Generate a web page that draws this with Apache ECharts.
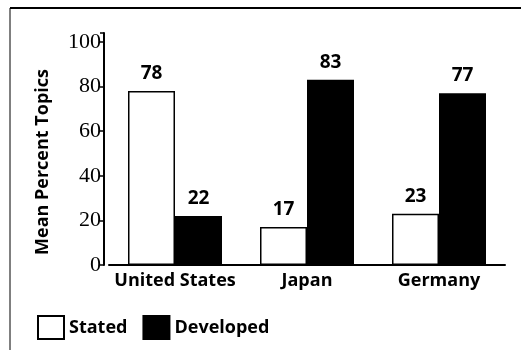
<!DOCTYPE html>
<html>
<head>
<meta charset="utf-8">
<script src="https://cdn.jsdelivr.net/npm/echarts@6/dist/echarts.min.js"></script>
<style>
  html, body { margin: 0; padding: 0; background: #fff; }
  #chart { width: 521px; height: 355px; }
</style>
</head>
<body>
<div id="chart"></div>
<script>
// Countries compared
const countries = ['United States', 'Japan', 'Germany'];
// Mean percent of topics that were stated vs developed
const stated = [78, 17, 23];
const developed = [22, 83, 77];
// Y-axis tick values
const yTicks = [0, 20, 40, 60, 80, 100];

const chart = echarts.init(document.getElementById('chart'), null, { renderer: 'canvas' });

const sansBold = { fontFamily: 'Open Sans', fontWeight: 'bold', color: '#000' };

chart.setOption({
  animation: false,
  backgroundColor: '#fff',
  grid: { left: 109, right: 16, top: 33, bottom: 90 },
  legend: {
    left: 37,
    top: 315,
    padding: 0,
    icon: 'rect',
    itemWidth: 26,
    itemHeight: 23,
    itemGap: 15,
    itemTextGap: 5,
    textStyle: Object.assign({ fontSize: 18 }, sansBold),
    data: ['Stated', 'Developed']
  },
  xAxis: {
    type: 'category',
    data: countries,
    axisLine: { lineStyle: { color: '#000', width: 2 } },
    axisTick: { show: false },
    axisLabel: Object.assign({ fontSize: 18, margin: 7, interval: 0 }, sansBold),
    splitLine: { show: false }
  },
  yAxis: {
    type: 'value',
    min: 0,
    max: 104,
    interval: 20,
    offset: 5,
    name: 'Mean Percent Topics',
    nameLocation: 'middle',
    nameGap: 52,
    nameRotate: 90,
    nameTextStyle: Object.assign({ fontSize: 18, padding: [0, 26, 0, 0] }, sansBold),
    axisLine: { show: true, lineStyle: { color: '#000', width: 2 } },
    axisTick: { show: true, length: 4, lineStyle: { color: '#000', width: 1.5 } },
    axisLabel: {
      fontFamily: 'Liberation Serif',
      fontSize: 22,
      color: '#000',
      margin: 3,
      formatter: v => (yTicks.indexOf(v) >= 0 ? String(v) : '')
    },
    splitLine: { show: false }
  },
  series: [
    {
      name: 'Stated',
      type: 'bar',
      data: stated,
      barWidth: 47,
      barGap: '0%',
      itemStyle: { color: '#fff', borderColor: '#000', borderWidth: 1.5 },
      label: Object.assign({ show: true, position: 'top', distance: 8, fontSize: 19 }, sansBold)
    },
    {
      name: 'Developed',
      type: 'bar',
      data: developed,
      barWidth: 47,
      barGap: '0%',
      itemStyle: { color: '#000', borderColor: '#000', borderWidth: 1.5 },
      label: Object.assign({ show: true, position: 'top', distance: 8, fontSize: 19 }, sansBold)
    }
  ],
  graphic: [
    { type: 'line', shape: { x1: 10, y1: 8, x2: 521, y2: 8 }, style: { stroke: '#000', lineWidth: 2 } },
    { type: 'line', shape: { x1: 10, y1: 8, x2: 10, y2: 350 }, style: { stroke: '#000', lineWidth: 1 } }
  ]
});
</script>
</body>
</html>
